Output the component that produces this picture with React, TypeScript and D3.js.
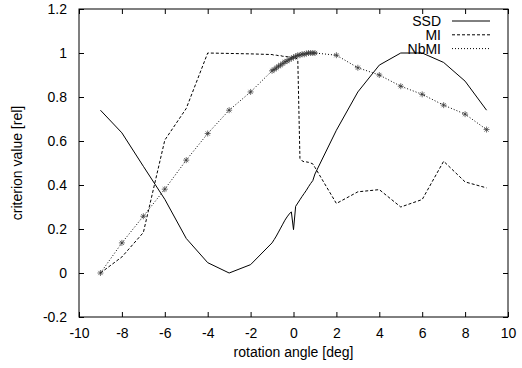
import * as d3 from "d3";
import { useEffect, useRef } from "react";

// rotation angles: coarse steps outside [-1, 1], 0.1 steps inside
const angles = [
  -9, -8, -7, -6, -5, -4, -3, -2,
  -1, -0.9, -0.8, -0.7, -0.6, -0.5, -0.4, -0.3, -0.2, -0.1, 0,
  0.1, 0.2, 0.3, 0.4, 0.5, 0.6, 0.7, 0.8, 0.9, 1,
  2, 3, 4, 5, 6, 7, 8, 9,
];

const ssd = [
  0.74, 0.637, 0.485, 0.335, 0.157, 0.047, 0, 0.038,
  0.137, 0.152, 0.168, 0.186, 0.204, 0.222, 0.24, 0.255, 0.268, 0.278, 0.197,
  0.303, 0.318, 0.333, 0.348, 0.362, 0.376, 0.392, 0.407, 0.42, 0.45,
  0.649, 0.823, 0.945, 1.0, 1.0, 0.957, 0.872, 0.74,
];

const mi = [
  0, 0.073, 0.184, 0.604, 0.748, 1.0, 0.998, 0.996,
  0.993, 0.99, 0.99, 0.988, 0.988, 0.985, 0.985, 0.983, 0.982, 0.98, 0.985,
  0.978, 0.97, 0.52, 0.51, 0.505, 0.505, 0.503, 0.5, 0.496, 0.48,
  0.316, 0.369, 0.379, 0.3, 0.334, 0.508, 0.414, 0.387,
];

const nbmi = [
  0, 0.137, 0.258, 0.381, 0.513, 0.634, 0.74, 0.823,
  0.919, 0.925, 0.932, 0.94, 0.945, 0.952, 0.96, 0.963, 0.97, 0.975, 0.98,
  0.985, 0.99, 0.99, 0.995, 0.994, 0.998, 1.0, 1.0, 1.0, 1.0,
  0.99, 0.933, 0.9, 0.849, 0.812, 0.763, 0.722, 0.652,
];

const xTicks = [-10, -8, -6, -4, -2, 0, 2, 4, 6, 8, 10];
const yTicks = [-0.2, 0, 0.2, 0.4, 0.6, 0.8, 1, 1.2];

const seriesNames = ["SSD", "MI", "NbMI"];
const dashes = [null, "3,2", "1,2"];

const FONT = "'Liberation Sans', Arial, Helvetica, sans-serif";

export default function App() {
  const ref = useRef<SVGSVGElement | null>(null);

  useEffect(() => {
    if (!ref.current) return;
    const svg = d3.select(ref.current);
    svg.selectAll("*").remove();

    const W = 522;
    const H = 368;
    const margin = { top: 9, right: 14, bottom: 51, left: 79 };
    const width = W - margin.left - margin.right;
    const height = H - margin.top - margin.bottom;

    svg.attr("width", W).attr("height", H);

    svg.append("rect").attr("width", W).attr("height", H).attr("fill", "#fff");

    const g = svg.append("g").attr("transform", `translate(${margin.left},${margin.top})`);

    const x = d3.scaleLinear().domain([-10, 10]).range([0, width]);
    const y = d3.scaleLinear().domain([-0.2, 1.2]).range([height, 0]);

    const tickLen = 5;
    const tickFmt = (v: number) => String(+v.toFixed(1));

    // inward ticks on all four sides
    const bottom = g
      .append("g")
      .attr("transform", `translate(0,${height})`)
      .call(d3.axisBottom(x).tickValues(xTicks).tickSize(-tickLen).tickPadding(11).tickFormat((d) => tickFmt(+d)));
    const top = g.append("g").call(d3.axisTop(x).tickValues(xTicks).tickSize(-tickLen).tickFormat(() => ""));
    const left = g
      .append("g")
      .call(d3.axisLeft(y).tickValues(yTicks).tickSize(-tickLen).tickPadding(12).tickFormat((d) => tickFmt(+d)));
    const right = g
      .append("g")
      .attr("transform", `translate(${width},0)`)
      .call(d3.axisRight(y).tickValues(yTicks).tickSize(-tickLen).tickFormat(() => ""));

    [bottom, top, left, right].forEach((ax) => {
      ax.select(".domain").remove();
      ax.selectAll("line").attr("stroke", "#000").attr("stroke-width", 1);
      ax.selectAll("text").attr("font-family", FONT).attr("font-size", 14).attr("fill", "#000");
    });

    g.append("rect")
      .attr("width", width)
      .attr("height", height)
      .attr("fill", "none")
      .attr("stroke", "#000")
      .attr("stroke-width", 1);

    const allSeries = [ssd, mi, nbmi];
    const line = d3
      .line<number>()
      .x((_, i) => x(angles[i]))
      .y((d) => y(d));

    allSeries.forEach((vals, k) => {
      g.append("path")
        .attr("d", line(vals))
        .attr("fill", "none")
        .attr("stroke", "#000")
        .attr("stroke-width", 1)
        .attr("stroke-dasharray", dashes[k]);
    });

    // asterisk markers on NbMI
    const r = 3;
    const star = `M${-r},0H${r}M0,${-r}V${r}M${-r * 0.7},${-r * 0.7}L${r * 0.7},${r * 0.7}M${-r * 0.7},${r * 0.7}L${r * 0.7},${-r * 0.7}`;
    g.selectAll(".mk")
      .data(nbmi)
      .enter()
      .append("path")
      .attr("transform", (d, i) => `translate(${x(angles[i])},${y(d)})`)
      .attr("d", star)
      .attr("fill", "none")
      .attr("stroke", "#333")
      .attr("stroke-width", 0.7);

    // legend
    const leg = svg.append("g");
    seriesNames.forEach((name, k) => {
      const ly = 21 + k * 13.8;
      leg.append("text")
        .attr("x", 441)
        .attr("y", ly)
        .attr("dy", "0.35em")
        .attr("text-anchor", "end")
        .attr("font-family", FONT)
        .attr("font-size", 14)
        .text(name);
      leg.append("line")
        .attr("x1", 452)
        .attr("x2", 490)
        .attr("y1", ly)
        .attr("y2", ly)
        .attr("stroke", "#000")
        .attr("stroke-width", 1)
        .attr("stroke-dasharray", dashes[k]);
    });

    svg.append("text")
      .attr("x", margin.left + width / 2)
      .attr("y", 357)
      .attr("text-anchor", "middle")
      .attr("font-family", FONT)
      .attr("font-size", 14)
      .text("rotation angle [deg]");

    svg.append("text")
      .attr("transform", `translate(17,${margin.top + height / 2}) rotate(-90)`)
      .attr("dy", "0.35em")
      .attr("text-anchor", "middle")
      .attr("font-family", FONT)
      .attr("font-size", 14)
      .text("criterion value [rel]");
  }, []);

  return (
    <div style={{ position: "absolute", left: 0, top: 0 }}>
      <svg ref={ref} style={{ display: "block" }} />
    </div>
  );
}
